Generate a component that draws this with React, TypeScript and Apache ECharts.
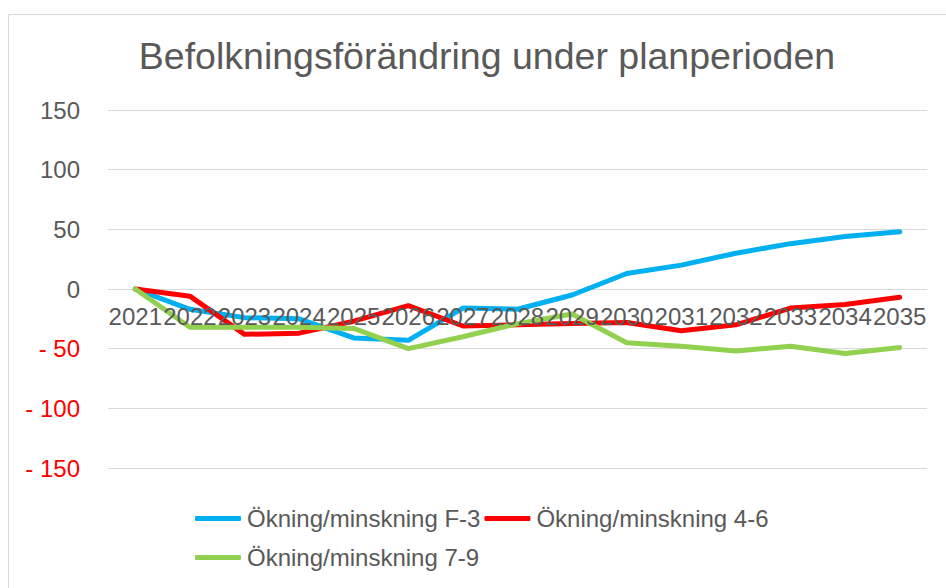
import React, { useEffect, useRef } from "react";
import * as echarts from "echarts";

const years = ["2021","2022","2023","2024","2025","2026","2027","2028","2029","2030","2031","2032","2033","2034","2035"];
const seriesF3 = [0, -17, -24, -25, -41, -43, -16, -17, -5, 13, 20, 30, 38, 44, 48];
const series46 = [0, -6, -38, -37, -27, -14, -31, -30, -29, -28, -35, -30, -16, -13, -7];
const series79 = [0, -32, -32, -32, -33, -50, -40, -29, -21, -45, -48, -52, -48, -54, -49];
const names = ["Ökning/minskning F-3", "Ökning/minskning 4-6", "Ökning/minskning 7-9"];
const colors = ["#00B0F0", "#FF0000", "#92D050"];
const yTicks = { min: -150, max: 150, interval: 50 };

const FONT = '"Liberation Sans", Arial, sans-serif';
const GRID_TOP = 110;
const GRID_BOTTOM = 120;
const CHART_H = 588;

export default function App() {
  const ref = useRef<HTMLDivElement>(null);
  useEffect(() => {
    if (!ref.current) return;
    const chart = echarts.init(ref.current, undefined, { renderer: "svg" });
    const data = [seriesF3, series46, series79];
    const plotH = CHART_H - GRID_TOP - GRID_BOTTOM;
    // shift the category axis up to where the value 0 lies
    const zeroOffset = -plotH * (0 - yTicks.min) / (yTicks.max - yTicks.min);
    chart.setOption({
      animation: false,
      backgroundColor: "#ffffff",
      textStyle: { fontFamily: FONT },
      title: {
        text: "Befolkningsförändring under planperioden",
        left: 482,
        textAlign: "center",
        top: 32,
        textStyle: { fontSize: 37.5, fontWeight: "normal", color: "#595959", fontFamily: FONT },
      },
      graphic: [
        {
          type: "rect",
          shape: { x: 8.5, y: 14.5, width: 1000, height: 1000 },
          style: { fill: "none", stroke: "#d9d9d9", lineWidth: 1 },
          silent: true,
        },
      ],
      grid: { left: 108, right: 19, top: GRID_TOP, bottom: GRID_BOTTOM, containLabel: false },
      legend: {
        left: 190,
        top: 496,
        width: 620,
        itemWidth: 46,
        itemHeight: 5,
        itemGap: 4,
        icon: "roundRect",
        data: names,
        textStyle: { fontSize: 24, color: "#595959", fontFamily: FONT, lineHeight: 35, padding: [0, 0, 0, 1] },
      },
      xAxis: {
        type: "category",
        data: years,
        boundaryGap: true,
        position: "bottom",
        offset: zeroOffset,
        z: 10,
        axisLine: { show: false, onZero: false },
        axisTick: { show: false },
        axisLabel: { interval: 0, fontSize: 24, color: "#595959", margin: 15, fontFamily: FONT },
        splitLine: { show: false },
      },
      yAxis: {
        type: "value",
        min: yTicks.min,
        max: yTicks.max,
        interval: yTicks.interval,
        axisLine: { show: false },
        axisTick: { show: false },
        splitLine: { show: true, lineStyle: { color: "#d9d9d9", width: 1 } },
        axisLabel: {
          margin: 28,
          fontSize: 24,
          fontFamily: FONT,
          color: "#595959",
          formatter: (v: number) => (v < 0 ? "{neg|- " + Math.abs(v) + "}" : "{pos|" + v + "}"),
          rich: {
            neg: { color: "#FF0000", fontSize: 24, fontFamily: FONT },
            pos: { color: "#595959", fontSize: 24, fontFamily: FONT },
          },
        },
      },
      series: names.map((n, i) => ({
        name: n,
        type: "line",
        data: data[i],
        symbol: "none",
        showSymbol: false,
        lineStyle: { color: colors[i], width: 5, cap: "round", join: "round" },
        itemStyle: { color: colors[i] },
        z: 2,
      })),
    });
    return () => chart.dispose();
  }, []);
  return (
    <div
      ref={ref}
      style={{ position: "fixed", left: 0, top: 0, width: 946, height: 588, background: "#fff" }}
    />
  );
}
